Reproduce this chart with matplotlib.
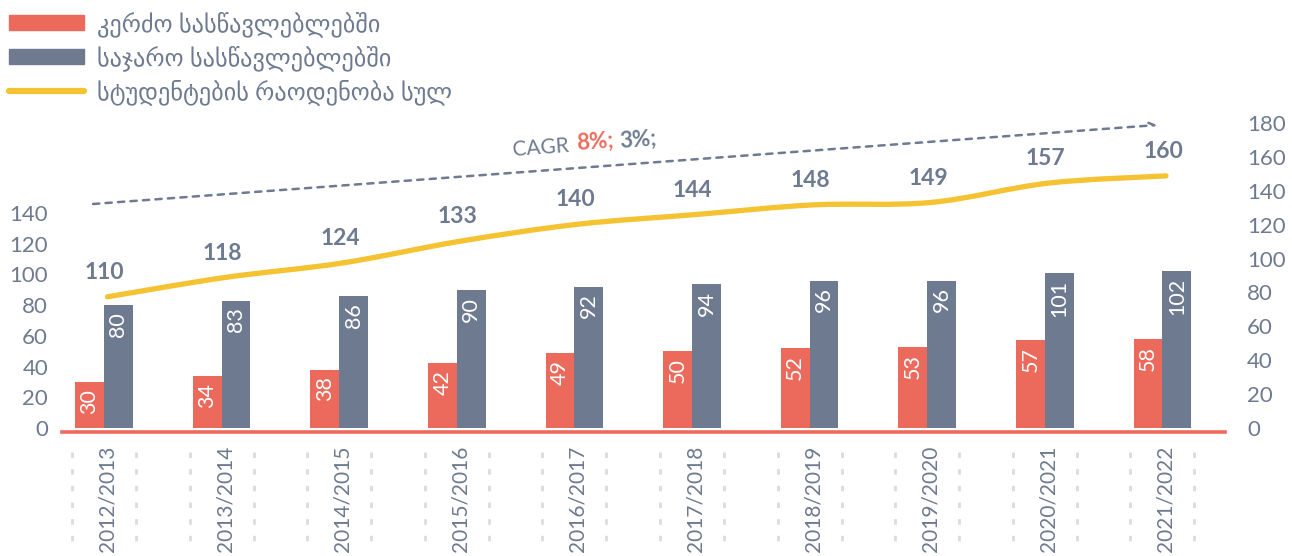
import matplotlib
matplotlib.use("Agg")
import matplotlib.pyplot as plt
from matplotlib.patches import Patch, PathPatch
from matplotlib.path import Path
from matplotlib.lines import Line2D
import numpy as np

years = ["2012/2013", "2013/2014", "2014/2015", "2015/2016", "2016/2017",
         "2017/2018", "2018/2019", "2019/2020", "2020/2021", "2021/2022"]
private = [30, 34, 38, 42, 49, 50, 52, 53, 57, 58]
public = [80, 83, 86, 90, 92, 94, 96, 96, 101, 102]
total = [110, 118, 124, 133, 140, 144, 148, 149, 157, 160]
left_ticks = [0, 20, 40, 60, 80, 100, 120, 140]
right_ticks = [0, 20, 40, 60, 80, 100, 120, 140, 160, 180]
legend_labels = ["კერძო სასწავლებლებში", "საჯარო სასწავლებლებში",
                 "სტუდენტების რაოდენობა სულ"]
cagr_private = "8%;"
cagr_public = "3%;"

RED = "#EC6A5C"
GREY = "#6E7A90"
YEL = "#F5C232"
TXT = "#6E7A90"
FONT = ["Lato", "DejaVu Sans"]
plt.rcParams["font.family"] = FONT

fig = plt.figure(figsize=(12.92, 5.56), dpi=100)
ax = fig.add_axes([62/1292, (556-432)/556, 1163/1292, 312/556])
x = np.arange(len(years))
w = 0.245

bp = ax.bar(x - w/2, private, w, color=RED)
bg = ax.bar(x + w/2, public, w, color=GREY)
for bars, vals in ((bp, private), (bg, public)):
    for b, v in zip(bars, vals):
        ax.annotate(str(v), (b.get_x() + b.get_width()/2, v), xytext=(0, -5),
                    textcoords="offset points", rotation=90, ha="center",
                    va="top", color="white", fontsize=15.5)

ax.set_xlim(-0.357, 9.532)
ax.set_ylim(-2.6, 200.5)
ax.set_yticks(left_ticks)
ax.set_xticks(x + 0.03)
ax.set_xticklabels(years, rotation=90, va="top", ha="center")
ax.tick_params(axis="y", length=0, labelsize=16, labelcolor=TXT, pad=10)
ax.tick_params(axis="x", length=0, labelsize=15, labelcolor=TXT, pad=10)
for s in ["left", "right", "top"]:
    ax.spines[s].set_visible(False)
ax.spines["bottom"].set_color(RED)
ax.spines["bottom"].set_linewidth(2.6)

# dotted separators around the year labels
trans = ax.get_xaxis_transform()
for xi in x:
    for dx in (-0.272, 0.272):
        ax.plot([xi + dx, xi + dx], [-0.064, -0.353], transform=trans,
                clip_on=False, color="#DADCE2", lw=2, ls=(0, (2, 4)))

# right axis labels
axr = ax.twinx()
axr.set_ylim(-2.36, 181.8)
axr.set_yticks(right_ticks)
axr.tick_params(axis="y", length=0, labelsize=16, labelcolor=TXT, pad=16)
for s in axr.spines.values():
    s.set_visible(False)

# total line on its own hidden scale, drawn as a smooth bezier path
axl = ax.twinx()
axl.set_ylim(54.1, 183.1)
axl.axis("off")
lx = x + 0.03
ly = np.array(total, dtype=float)
verts = [(lx[0], ly[0])]
codes = [Path.MOVETO]
for i in range(len(lx) - 1):
    p0 = i - 1 if i > 0 else i
    p3 = i + 2 if i + 2 < len(lx) else i + 1
    c1 = (lx[i] + (lx[i+1] - lx[p0]) / 6, ly[i] + (ly[i+1] - ly[p0]) / 6)
    c2 = (lx[i+1] - (lx[p3] - lx[i]) / 6, ly[i+1] - (ly[p3] - ly[i]) / 6)
    verts += [c1, c2, (lx[i+1], ly[i+1])]
    codes += [Path.CURVE4] * 3
axl.add_patch(PathPatch(Path(verts, codes), fill=False, edgecolor=YEL,
                        lw=3.8, capstyle="round"))
for xi, v in zip(lx, total):
    axl.annotate(str(v), (xi, v), xytext=(-2, 10),
                 textcoords="offset points", ha="center", va="bottom",
                 color=TXT, fontsize=16.5, fontweight="bold")

# CAGR trend arrow
ax.annotate("", xy=(0.9415, 0.984), xytext=(0.0267, 0.7308),
            xycoords="axes fraction", textcoords="axes fraction",
            arrowprops=dict(arrowstyle="->", color=GREY, lw=1.8,
                            linestyle=(0, (2.5, 2.5)), shrinkA=0, shrinkB=0))
ax.text(0.387, 0.904, "CAGR", transform=ax.transAxes, rotation=4.2,
        rotation_mode="anchor", ha="left", va="center", fontsize=15, color=TXT)
ax.text(0.4425, 0.926, cagr_private, transform=ax.transAxes, rotation=4.2,
        rotation_mode="anchor", ha="left", va="center", fontsize=16,
        color=RED, fontweight="bold")
ax.text(0.4795, 0.933, cagr_public, transform=ax.transAxes, rotation=4.2,
        rotation_mode="anchor", ha="left", va="center", fontsize=16,
        color=TXT, fontweight="bold")

handles = [Patch(color=RED), Patch(color=GREY),
           Line2D([], [], color=YEL, lw=4.5, solid_capstyle="round")]
fs = 17.5
leg = fig.legend(handles, legend_labels, loc="upper left",
                 bbox_to_anchor=(0.0, 0.995), frameon=False, fontsize=fs,
                 handlelength=75/(fs*1.389), handleheight=14/(fs*1.389),
                 handletextpad=14/(fs*1.389), labelspacing=0.33,
                 borderaxespad=0.15, borderpad=0.2)
for t in leg.get_texts():
    t.set_color(TXT)

fig.savefig("out.png", dpi=100)
